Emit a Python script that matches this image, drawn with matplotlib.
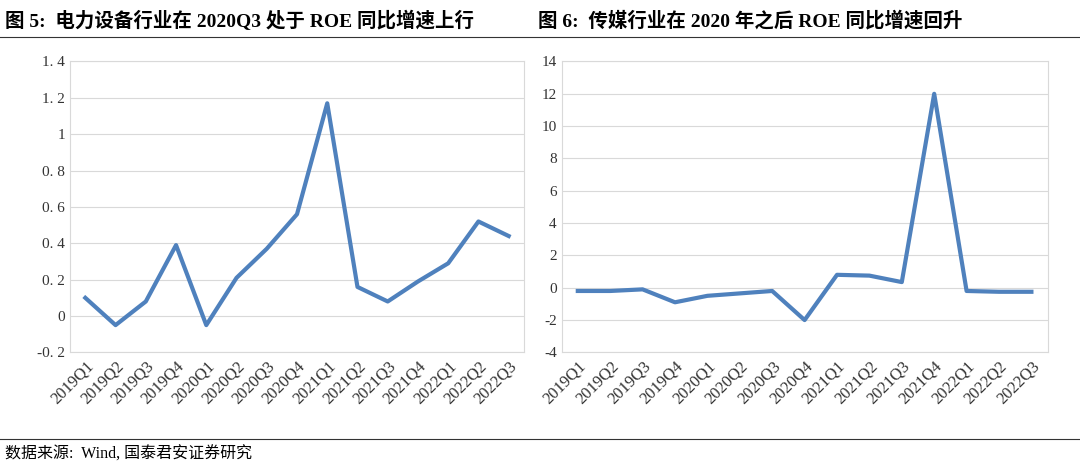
import matplotlib.pyplot as plt
import matplotlib.lines as mlines

plt.rcParams["font.family"] = ["Liberation Serif", "Noto Sans CJK SC"]

quarters = ["2019Q1", "2019Q2", "2019Q3", "2019Q4", "2020Q1", "2020Q2", "2020Q3", "2020Q4",
            "2021Q1", "2021Q2", "2021Q3", "2021Q4", "2022Q1", "2022Q2", "2022Q3"]
power_roe = [0.10, -0.05, 0.08, 0.39, -0.05, 0.21, 0.37, 0.56, 1.17, 0.16, 0.08, 0.19, 0.29, 0.52, 0.44]
media_roe = [-0.2, -0.2, -0.1, -0.9, -0.5, -0.35, -0.2, -2.0, 0.8, 0.75, 0.35, 12.0, -0.2, -0.25, -0.25]
left_ticks = [-0.2, 0, 0.2, 0.4, 0.6, 0.8, 1.0, 1.2, 1.4]
left_labels = ["-0. 2", "0", "0. 2", "0. 4", "0. 6", "0. 8", "1", "1. 2", "1. 4"]
right_ticks = list(range(-4, 15, 2))

line_color = "#4f81bd"
fig = plt.figure(figsize=(10.8, 4.73), dpi=100)

ax1 = fig.add_axes([0.065, 0.255, 0.42, 0.615])
ax2 = fig.add_axes([0.52, 0.255, 0.45, 0.615])

for ax, vals, ticks, labels in [(ax1, power_roe, left_ticks, left_labels),
                                (ax2, media_roe, right_ticks, [str(t) for t in right_ticks])]:
    x = range(len(quarters))
    ax.plot(x, vals, color=line_color, linewidth=3)
    ax.set_yticks(ticks)
    ax.set_yticklabels(labels)
    ax.set_ylim(ticks[0], ticks[-1])
    ax.set_xlim(-0.5, len(quarters) - 0.5)
    ax.set_xticks(list(x))
    ax.set_xticklabels(quarters, rotation=45, ha="right", rotation_mode="anchor")
    ax.grid(axis="y", color="#d9d9d9", linewidth=0.8)
    ax.set_axisbelow(True)
    for s in ax.spines.values():
        s.set_color("#d9d9d9")
    ax.tick_params(length=0, labelsize=11, colors="#333333")
    ax.tick_params(axis="x", pad=4, labelsize=12)

fig.text(0.005, 0.978, "图 5:  电力设备行业在 2020Q3 处于 ROE 同比增速上行", fontsize=14,
         fontweight="bold", va="top")
fig.text(0.498, 0.978, "图 6:  传媒行业在 2020 年之后 ROE 同比增速回升", fontsize=14,
         fontweight="bold", va="top")
fig.add_artist(mlines.Line2D([0.0, 1.0], [0.922, 0.922], color="#333333", linewidth=0.8))
fig.add_artist(mlines.Line2D([0.0, 1.0], [0.072, 0.072], color="#333333", linewidth=0.8))
fig.text(0.005, 0.022, "数据来源:  Wind, 国泰君安证券研究", fontsize=11.5, va="bottom")

fig.savefig("out.png", dpi=100)
